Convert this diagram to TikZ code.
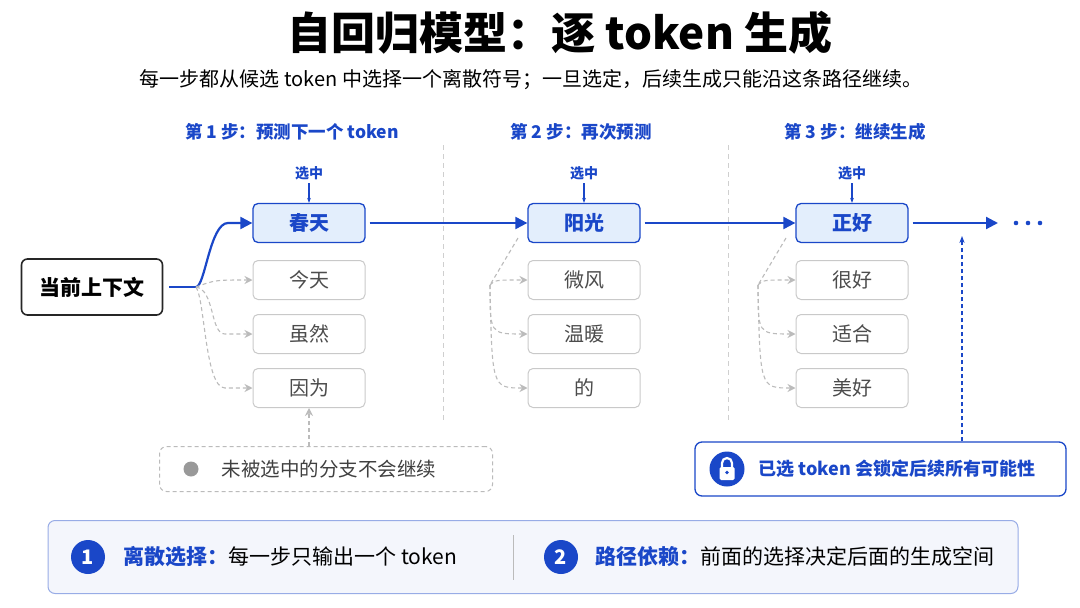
\documentclass[tikz,border=0pt]{standalone}
\usepackage{fontspec}
\setmainfont{Noto Sans CJK SC}
\usetikzlibrary{arrows.meta}
\definecolor{bl}{HTML}{1A47C8}
\definecolor{lbl}{HTML}{E3EEFC}
\definecolor{gr}{HTML}{BBBBBB}
\begin{document}
\begin{tikzpicture}[x=1pt,y=-1pt,
 sel/.style={draw=bl,line width=1.3pt,fill=lbl,rounded corners=5pt,minimum width=112pt,minimum height=39pt,font=\fontsize{20}{20}\selectfont\bfseries,text=bl},
 cand/.style={draw=gr!80,line width=1pt,rounded corners=5pt,minimum width=112pt,minimum height=39pt,font=\fontsize{20}{20}\selectfont,text=black!70},
 hdr/.style={font=\fontsize{17.5}{17.5}\selectfont\bfseries,text=bl},
 pick/.style={font=\fontsize{14}{14}\selectfont\bfseries,text=bl},
 barr/.style={draw=bl,line width=2.2pt,-{Triangle[length=12pt,width=12pt]}},
 gd/.style={draw=gr,line width=1.1pt,dash pattern=on 4pt off 3pt},
 garr/.style={gd,-{Stealth[length=8pt,width=8pt]}},
 sep/.style={draw=gr!70,dash pattern=on 5pt off 4pt,line width=0.7pt},
 num/.style={circle,fill=bl,text=white,minimum size=34pt,inner sep=0pt,font=\fontsize{20}{20}\selectfont\bfseries}]
\useasboundingbox (0,0) rectangle (1080,608);
\node (title) at (560,33) {\fontsize{44}{44}\selectfont\bfseries 自回归模型：逐 token 生成};
\node (sub) at (531,80) {\fontsize{20}{20}\selectfont 每一步都从候选 token 中选择一个离散符号；一旦选定，后续生成只能沿这条路径继续。};
\node[hdr] (h1) at (292,132) {第 1 步：预测下一个 token};
\node[hdr] (h2) at (581,132) {第 2 步：再次预测};
\node[hdr] (h3) at (855,132) {第 3 步：继续生成};
\draw[sep] (443,145) -- (443,422);
\draw[sep] (728,145) -- (728,422);
\node[draw=black!85,line width=1.6pt,rounded corners=6pt,minimum width=141pt,minimum height=56pt,font=\fontsize{21}{21}\selectfont\bfseries] (ctx) at (92,287) {当前上下文};
\foreach \c/\a/\b in {309/s1/春天,584/s2/阳光,852/s3/正好}{
 \node[sel] (\a) at (\c,223) {\b};
 \node[pick] (p\a) at (\c,173) {选中};
 \draw[bl,line width=1.2pt,-{Stealth[length=5pt]}] (p\a.south) -- (\a.north);
}
\node[cand] (c11) at (309,280) {今天};
\node[cand] (c12) at (309,334) {虽然};
\node[cand] (c13) at (309,388) {因为};
\node[cand] (c21) at (584,280) {微风};
\node[cand] (c22) at (584,334) {温暖};
\node[cand] (c23) at (584,388) {的};
\node[cand] (c31) at (852,280) {很好};
\node[cand] (c32) at (852,334) {适合};
\node[cand] (c33) at (852,388) {美好};
% step 1
\coordinate (j1) at (196,287);
\draw[bl,line width=2.2pt] (ctx.east) ++(6,0) -- (j1);
\draw[barr] (j1) .. controls (205,287) and (210,223) .. (228,223) -- (s1.west);
\draw[garr] (j1) .. controls (215,280) .. (c11.west);
\draw[garr] (j1) .. controls (215,290) and (210,334) .. (225,334) -- (c12.west);
\draw[garr] (j1) .. controls (205,300) and (205,388) .. (225,388) -- (c13.west);
% step 2
\draw[barr] (s1.east) ++(4,0) -- (s2.west);
\coordinate (t2) at (518,238); \coordinate (j2) at (490,285);
\draw[gd] (t2) -- (j2);
\draw[garr] (j2) .. controls (495,280) .. (c21.west);
\draw[garr] (j2) .. controls (490,334) .. (c22.west);
\draw[garr] (j2) .. controls (492,388) .. (c23.west);
% step 3
\draw[barr] (s2.east) ++(4,0) -- (s3.west);
\coordinate (t3) at (786,238); \coordinate (j3) at (758,285);
\draw[gd] (t3) -- (j3);
\draw[garr] (j3) .. controls (763,280) .. (c31.west);
\draw[garr] (j3) .. controls (758,334) .. (c32.west);
\draw[garr] (j3) .. controls (760,388) .. (c33.west);
% continue
\coordinate (endp) at (998,223);
\draw[barr] (s3.east) ++(4,0) -- (endp);
\foreach \x in {1016,1028,1040} \fill[bl] (\x,223) circle (2.3);
\node (dots) at (1028,223) {};
% gray note
\node[draw=gr,dash pattern=on 4pt off 3pt,rounded corners=7pt,line width=1pt,minimum width=333pt,minimum height=45pt] (note) at (326,469) {};
\node[circle,fill=gray!80,minimum size=15pt,inner sep=0pt] (gdot) at (191,469) {};
\node[anchor=west,font=\fontsize{19.5}{19.5}\selectfont,text=black!75] (notet) at (218,469) {未被选中的分支不会继续};
\draw[garr] (note.north -| c13) -- (c13.south);
% lock note
\node[draw=bl,line width=1.3pt,rounded corners=7pt,minimum width=371pt,minimum height=54pt,fill=white] (lock) at (880.5,469) {};
\node[circle,fill=bl,minimum size=35pt,inner sep=0pt] (lc) at (727,469) {};
\fill[white,rounded corners=1.5pt] (719.5,467) rectangle (734.5,480);
\draw[white,line width=2.2pt] (722,468) -- (722,463) arc[start angle=180,end angle=360,radius=5] -- (732,468);
\fill[bl] (727,472.5) circle (1.8);
\node[anchor=west,font=\fontsize{18}{18}\selectfont\bfseries,text=bl] (lockt) at (755,469) {已选 token 会锁定后续所有可能性};
\draw[bl,line width=1.1pt,dash pattern=on 4pt off 3pt,-{Stealth[length=7pt]}] (lock.north -| 962,0) -- (962,236);
% bottom
\node[draw=bl!45,fill=bl!5,line width=1pt,rounded corners=7pt,minimum width=970pt,minimum height=73pt] (bot) at (533,557) {};
\node[num] (n1) at (88,557) {1};
\node[anchor=west,font=\fontsize{21}{21}\selectfont] (b1) at (120,557) {\textcolor{bl}{\bfseries 离散选择：}每一步只输出一个 token};
\draw[gr,line width=0.8pt] (513,535) -- (513,580);
\node[num] (n2) at (561,557) {2};
\node[anchor=west,font=\fontsize{21}{21}\selectfont] (b2) at (592,557) {\textcolor{bl}{\bfseries 路径依赖：}前面的选择决定后面的生成空间};
\end{tikzpicture}
\end{document}
